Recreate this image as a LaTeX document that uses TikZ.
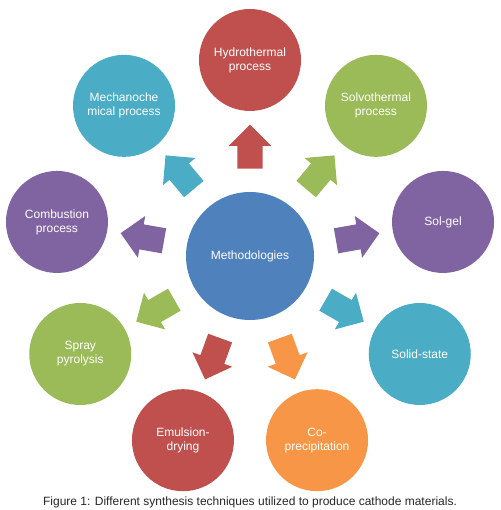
\documentclass[tikz,border=0pt]{standalone}
\usepackage{fontspec}
\setmainfont{Liberation Sans}
\usetikzlibrary{shapes.arrows,calc}
\definecolor{offblue}{HTML}{4F81BD}
\definecolor{offred}{HTML}{C0504D}
\definecolor{offgreen}{HTML}{9BBB59}
\definecolor{offpurple}{HTML}{8064A2}
\definecolor{offaqua}{HTML}{4BACC6}
\definecolor{offorange}{HTML}{F79646}
\begin{document}
\begin{tikzpicture}[
  x=1pt,y=1pt,
  font=\fontsize{12}{14}\selectfont,
  hub/.style={circle,fill=offblue,text=white,minimum size=128pt,inner sep=0pt,align=center},
  method/.style={circle,fill=#1,text=white,minimum size=102pt,inner sep=0pt,align=center},
  blockarr/.style={single arrow,fill=#1,minimum height=44pt,inner xsep=0pt,inner ysep=12.5pt,single arrow head extend=8.5pt}
]
\useasboundingbox (0,0) rectangle (500,510);
\node[hub] (meth) at (250,254) {Methodologies};
% nine methods around the hub, 40 degrees apart
\foreach \name/\ang/\col/\txt in {
  hydro/90/offred/{Hydrothermal\\process},
  solvo/50/offgreen/{Solvothermal\\process},
  solgel/10/offpurple/{Sol-gel},
  solid/-30/offaqua/{Solid-state},
  copre/-70/offorange/{Co-\\precipitation},
  emuls/-110/offred/{Emulsion-\\drying},
  spray/-150/offgreen/{Spray\\pyrolysis},
  combu/170/offpurple/{Combustion\\process},
  mecha/130/offaqua/{Mechanoche\\mical process}}{
  \node[method=\col] (\name) at ($(meth)+(\ang:196)$) {\txt};
  \node[blockarr=\col,rotate=\ang] (\name-arr) at ($(meth)+(\ang:103)$) {};
}
\node[font=\fontsize{12}{14}\selectfont,text=black!85] (cap) at (250,8) {Figure 1: Different synthesis techniques utilized to produce cathode materials.};
\end{tikzpicture}
\end{document}
